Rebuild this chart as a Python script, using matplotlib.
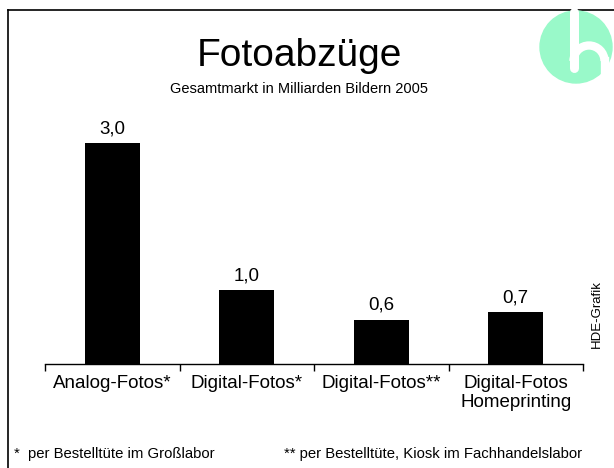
import matplotlib.pyplot as plt
from matplotlib.patches import Circle, Arc
from matplotlib.lines import Line2D

# Daten
kategorien = ["Analog-Fotos*", "Digital-Fotos*", "Digital-Fotos**", "Digital-Fotos\nHomeprinting"]
werte = [3.0, 1.0, 0.6, 0.7]
wert_labels = ["3,0", "1,0", "0,6", "0,7"]

plt.rcParams['font.family'] = ['Liberation Sans', 'DejaVu Sans']

W, H = 614, 468
fig = plt.figure(figsize=(W / 100, H / 100), dpi=100)

def fx(px):
    return px / W

def fy(py):
    return 1 - py / H

# Achse: Basislinie bei y=364, von x=45 bis 583
ax = fig.add_axes([fx(45), fy(364), fx(583) - fx(45), 4 * 73.7 / H])
pos = range(len(werte))
ax.bar(pos, werte, width=0.41, color="black")
ax.set_xlim(-0.5, len(werte) - 0.5)
ax.set_ylim(0, 4)
for sp in ["top", "right", "left"]:
    ax.spines[sp].set_visible(False)
ax.spines["bottom"].set_linewidth(1)
ax.set_yticks([])
ax.set_xticks([x - 0.5 for x in range(len(werte) + 1)], minor=False)
ax.set_xticklabels([])
ax.tick_params(axis="x", direction="out", length=5, width=1)
ax.set_xticks(list(pos), minor=True)
ax.set_xticklabels(kategorien, minor=True, fontsize=13.5, linespacing=1.15)
ax.tick_params(axis="x", which="minor", length=0, pad=8)
for x, v, lab in zip(pos, werte, wert_labels):
    ax.text(x, v + 0.08, lab, ha="center", va="bottom", fontsize=13.5)

# Titel
fig.text(fx(299), fy(56), "Fotoabzüge", ha="center", va="center", fontsize=28)
fig.text(fx(299), fy(89), "Gesamtmarkt in Milliarden Bildern 2005", ha="center", va="center", fontsize=10.5)

# Rahmen
fig.add_artist(Line2D([fx(8), 1], [fy(10), fy(10)], color="black", lw=1.2))
fig.add_artist(Line2D([fx(8), fx(8)], [fy(10), 0], color="black", lw=1.2))

# Logo
logo = fig.add_axes([0, 0, 1, 1], zorder=5)
logo.set_xlim(0, W)
logo.set_ylim(H, 0)
logo.axis("off")
logo.add_patch(Circle((576, 47), 36, color="#99f9c9"))
logo.plot([573.5, 573.5], [12, 68], color="white", lw=6.5, solid_capstyle="round")
logo.add_patch(Arc((589, 61), 31, 31, theta1=180, theta2=360, color="white", lw=6))
logo.plot([604.5, 604.5], [61, 90], color="white", lw=6)

# Fußnoten
fig.text(fx(14), fy(454), "*  per Bestelltüte im Großlabor", ha="left", va="center", fontsize=10.7)
fig.text(fx(284), fy(454), "** per Bestelltüte, Kiosk im Fachhandelslabor", ha="left", va="center", fontsize=10.7)
fig.text(fx(597), fy(314), "HDE-Grafik", rotation=90, ha="center", va="center", fontsize=9.5)

fig.savefig("out.png", dpi=100)
